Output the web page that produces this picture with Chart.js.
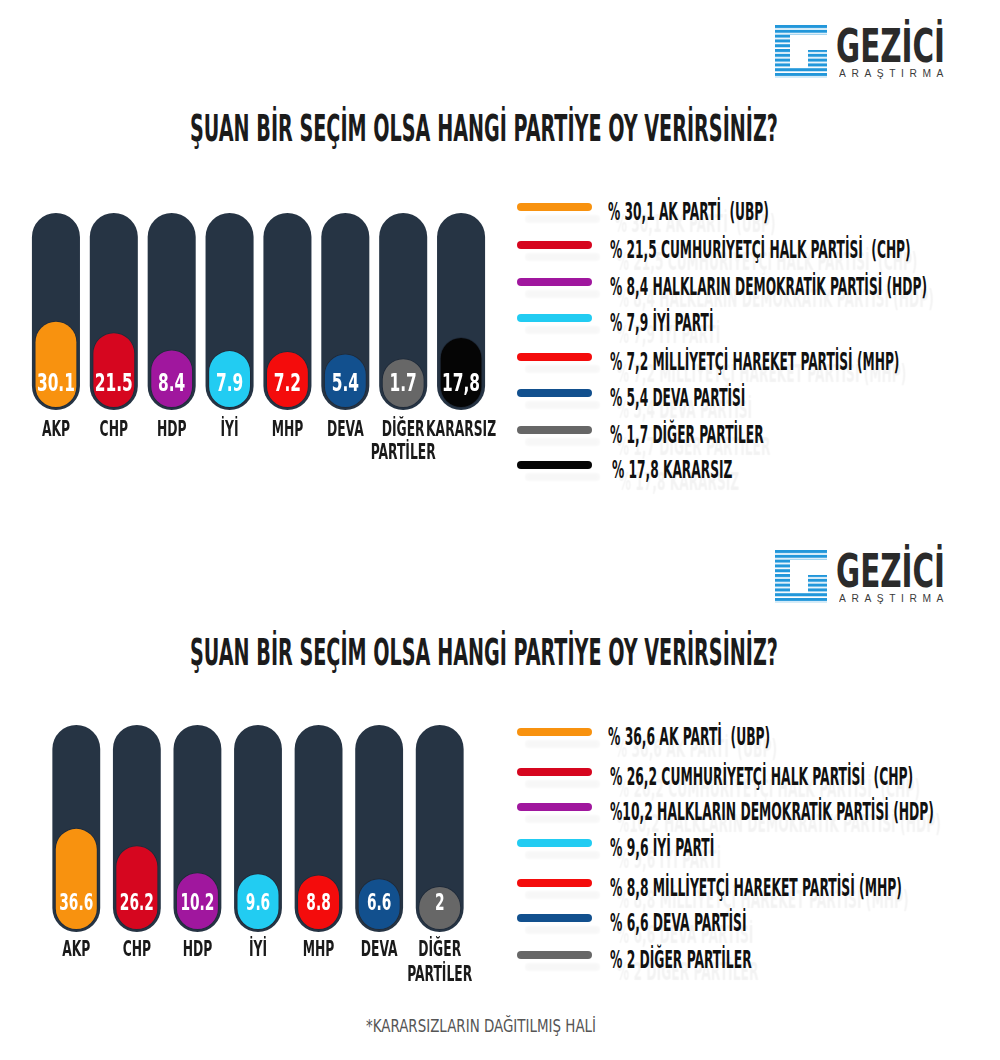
<!DOCTYPE html>
<html>
<head>
<meta charset="utf-8">
<script src="https://cdn.jsdelivr.net/npm/chart.js@4.4.0/dist/chart.umd.min.js"></script>
<style>
html,body{margin:0;padding:0;background:#fff;}
body{width:1000px;height:1060px;position:relative;overflow:hidden;
  font-family:"Liberation Sans Narrow","DejaVu Sans Condensed","Liberation Sans",sans-serif;}
.abs{position:absolute;white-space:pre;transform-origin:0 50%;}
.title{font-weight:bold;font-size:38px;line-height:38px;color:#1b1b1b;}
.brand{font-weight:bold;font-size:46px;line-height:46px;color:#2b2b2b;}
.sub{font-family:"Liberation Sans",sans-serif;font-size:11px;line-height:11px;color:#3a3a3a;letter-spacing:6px;}
.sw{position:absolute;left:517px;width:75px;height:8px;border-radius:4px;box-shadow:8px 12px 2px rgba(0,0,0,0.03);}
.lt{font-weight:bold;font-size:24px;line-height:24px;color:#111;text-shadow:12px 12px 1.5px rgba(0,0,0,0.05);}
.foot{font-family:"Liberation Sans Narrow","DejaVu Sans Condensed","Liberation Sans",sans-serif;font-size:17px;line-height:17px;color:#555;}
canvas{position:absolute;}
</style>
</head>
<body>
<svg class="abs" style="left:775px;top:25px" width="52" height="53" viewBox="0 0 52 53">
  <defs>
    <pattern id="st1" width="52" height="4.8" patternUnits="userSpaceOnUse"><rect width="52" height="3.1" fill="#2297da"/></pattern>
    <clipPath id="gc1"><path d="M0 0H52V10H15V43H33V25H52V53H0Z"/></clipPath>
  </defs>
  <rect width="52" height="53" fill="url(#st1)" clip-path="url(#gc1)"/>
</svg>
<div class="abs brand" id="brand1" style="left:836px;top:23px">GEZİCİ</div>
<div class="abs sub" id="sub1" style="left:839px;top:68px">ARAŞTIRMA</div>
<div class="abs title" id="title1" style="left:190px;top:109px">ŞUAN BİR SEÇİM OLSA HANGİ PARTİYE OY VERİRSİNİZ?</div>
<canvas id="c1" width="503" height="257" style="left:7px;top:213px"></canvas>
<div id="legend1"></div>

<svg class="abs" style="left:775px;top:550px" width="52" height="53" viewBox="0 0 52 53">
  <defs>
    <pattern id="st2" width="52" height="4.8" patternUnits="userSpaceOnUse"><rect width="52" height="3.1" fill="#2297da"/></pattern>
    <clipPath id="gc2"><path d="M0 0H52V10H15V43H33V25H52V53H0Z"/></clipPath>
  </defs>
  <rect width="52" height="53" fill="url(#st2)" clip-path="url(#gc2)"/>
</svg>
<div class="abs brand" id="brand2" style="left:836px;top:548px">GEZİCİ</div>
<div class="abs sub" id="sub2" style="left:839px;top:593px">ARAŞTIRMA</div>
<div class="abs title" id="title2" style="left:190px;top:633px">ŞUAN BİR SEÇİM OLSA HANGİ PARTİYE OY VERİRSİNİZ?</div>
<canvas id="c2" width="464" height="267" style="left:26px;top:725px"></canvas>
<div id="legend2"></div>

<div class="abs foot" id="foot" style="left:366px;top:1018px">*KARARSIZLARIN DAĞITILMIŞ HALİ</div>

<script>
// ---------- DATA ----------
const categories1 = ["AKP", "CHP", "HDP", "İYİ", "MHP", "DEVA", ["DİĞER", "PARTİLER"], "KARARSIZ"];
const values1 = [30.1, 21.5, 8.4, 7.9, 7.2, 5.4, 1.7, 17.8];
const valueLabels1 = ["30.1", "21.5", "8.4", "7.9", "7.2", "5.4", "1.7", "17,8"];
const colors1 = ["#f8920f", "#d6061f", "#a0179e", "#22ccf2", "#f40c0c", "#12508e", "#676767", "#050505"];
const legend1 = [
  "% 30,1 AK PARTİ  (UBP)",
  "% 21,5 CUMHURİYETÇİ HALK PARTİSİ  (CHP)",
  "% 8,4 HALKLARIN DEMOKRATİK PARTİSİ (HDP)",
  "% 7,9 İYİ PARTİ",
  "% 7,2 MİLLİYETÇİ HAREKET PARTİSİ (MHP)",
  "% 5,4 DEVA PARTİSİ",
  "% 1,7 DİĞER PARTİLER",
  "% 17,8 KARARSIZ"
];

const categories2 = ["AKP", "CHP", "HDP", "İYİ", "MHP", "DEVA", ["DİĞER", "PARTİLER"]];
const values2 = [36.6, 26.2, 10.2, 9.6, 8.8, 6.6, 2];
const valueLabels2 = ["36.6", "26.2", "10.2", "9.6", "8.8", "6.6", "2"];
const colors2 = ["#f8920f", "#d6061f", "#a0179e", "#22ccf2", "#f40c0c", "#12508e", "#676767"];
const legend2 = [
  "% 36,6 AK PARTİ  (UBP)",
  "% 26,2 CUMHURİYETÇİ HALK PARTİSİ  (CHP)",
  "%10,2 HALKLARIN DEMOKRATİK PARTİSİ (HDP)",
  "% 9,6 İYİ PARTİ",
  "% 8,8 MİLLİYETÇİ HAREKET PARTİSİ (MHP)",
  "% 6,6 DEVA PARTİSİ",
  "% 2 DİĞER PARTİLER"
];

// ---------- STYLE / LAYOUT ----------
const FONT = '"Liberation Sans Narrow","DejaVu Sans Condensed","Liberation Sans",sans-serif';
const TRACK = "#263444";

// condensed tick labels and in-bar value labels, positioned by the chart's own scales
const condensedLabelsPlugin = {
  id: "condensedLabels",
  afterDraw(chart, args, o) {
    const ctx = chart.ctx;
    const xs = chart.scales.x, ys = chart.scales.y;
    ctx.save();
    ctx.textAlign = "center";
    ctx.textBaseline = "middle";
    // category labels
    ctx.fillStyle = "#1a1a1a";
    ctx.font = "bold " + o.tickSize + "px " + FONT;
    const kt = o.tickRefW / ctx.measureText("KARARSIZ").width;
    chart.data.labels.forEach((lab, i) => {
      const lines = Array.isArray(lab) ? lab : [lab];
      const x = xs.getPixelForTick(i);
      lines.forEach((ln, j) => {
        ctx.save();
        ctx.translate(x, xs.top + o.tickPad + j * o.tickLH);
        ctx.scale(kt, 1);
        ctx.fillText(ln, 0, 0);
        ctx.restore();
      });
    });
    // value labels
    ctx.fillStyle = "#ffffff";
    ctx.font = "bold " + o.valSize + "px " + FONT;
    const kv = o.valRefW / ctx.measureText(o.valRef).width;
    const yb = ys.getPixelForValue(o.fillBase) - o.valOffset;
    chart.getDatasetMeta(0).data.forEach((el, i) => {
      ctx.save();
      ctx.translate(el.x, yb);
      ctx.scale(kv, 1);
      ctx.fillText(o.labels[i], 0, 0);
      ctx.restore();
    });
    ctx.restore();
  }
};

function makeChart(id, cats, vals, cols, labels, cfg) {
  return new Chart(document.getElementById(id), {
    type: "bar",
    data: {
      labels: cats,
      datasets: [
        {
          data: vals.map(v => [cfg.fillBase, v]),
          backgroundColor: cols,
          borderColor: "rgba(25,32,45,0.45)",
          borderWidth: 1,
          borderSkipped: false,
          borderRadius: 60,
          grouped: false,
          barPercentage: cfg.fillPct,
          categoryPercentage: 1,
          order: 0
        },
        {
          data: vals.map(() => [cfg.min, cfg.max]),
          backgroundColor: TRACK,
          borderWidth: 0,
          borderSkipped: false,
          borderRadius: 60,
          grouped: false,
          barPercentage: cfg.trackPct,
          categoryPercentage: 1,
          order: 1
        }
      ]
    },
    options: {
      responsive: false,
      maintainAspectRatio: false,
      animation: false,
      layout: { padding: { left: cfg.padX, right: cfg.padX, top: 0, bottom: 0 } },
      plugins: {
        legend: { display: false },
        tooltip: { enabled: false },
        condensedLabels: {
          labels: labels, fillBase: cfg.fillBase,
          valSize: cfg.valSize, valRef: labels[0], valRefW: cfg.valRefW, valOffset: cfg.valOffset,
          tickSize: cfg.tickSize, tickRefW: cfg.tickRefW, tickPad: cfg.tickPad, tickLH: cfg.tickLH
        }
      },
      scales: {
        x: {
          grid: { display: false, drawTicks: false },
          border: { display: false },
          ticks: { display: false },
          afterFit: s => { s.height = 60; }
        },
        y: { display: false, min: cfg.min, max: cfg.max }
      }
    },
    plugins: [condensedLabelsPlugin]
  });
}

makeChart("c1", categories1, values1, colors1, valueLabels1, {
  padX: 20, min: -37.4, max: 111.6, fillBase: -35.9, fillPct: 0.74, trackPct: 0.83,
  valSize: 25, valRefW: 38, valOffset: 24,
  tickSize: 22, tickRefW: 70, tickPad: 20, tickLH: 23
});
makeChart("c2", categories2, values2, colors2, valueLabels2, {
  padX: 20, min: -25.4, max: 97.8, fillBase: -24.2, fillPct: 0.71, trackPct: 0.79,
  valSize: 23, valRefW: 34, valOffset: 26,
  tickSize: 22, tickRefW: 70, tickPad: 18, tickLH: 25
});

// ---------- HTML LEGENDS ----------
function buildLegend(hostId, texts, cols, swatchY, textX, widestIdx, widestW) {
  const host = document.getElementById(hostId);
  const els = [];
  texts.forEach((t, i) => {
    const sw = document.createElement("div");
    sw.className = "sw";
    sw.style.top = (swatchY[i] - 4) + "px";
    sw.style.background = cols[i];
    host.appendChild(sw);
    const d = document.createElement("div");
    d.className = "abs lt";
    d.textContent = t;
    d.style.left = textX[i] + "px";
    d.style.top = (swatchY[i] + 5 - 12) + "px";
    host.appendChild(d);
    els.push(d);
  });
  const k = widestW / els[widestIdx].getBoundingClientRect().width;
  els.forEach(e => { e.style.transform = "scaleX(" + k + ")"; });
}
buildLegend("legend1", legend1, colors1,
  [207, 245, 282, 318, 357, 393, 430, 465],
  [608, 610, 610, 610, 610, 610, 610, 612], 2, 317);
buildLegend("legend2", legend2, colors2,
  [732, 772, 807, 843, 883, 918, 955],
  [608, 610, 610, 610, 610, 610, 610], 2, 324);

function fit(id, w) {
  const e = document.getElementById(id);
  const k = w / e.getBoundingClientRect().width;
  e.style.transform = "scaleX(" + k + ")";
}
fit("title1", 588); fit("title2", 588);
fit("brand1", 109); fit("brand2", 109);
fit("sub1", 110); fit("sub2", 110);
fit("foot", 230);
</script>
</body>
</html>
